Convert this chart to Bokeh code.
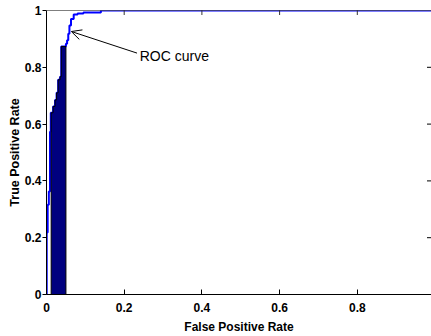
import math
from bokeh.plotting import figure
from bokeh.models import (FixedTicker, Arrow, OpenHead, Label, Span,
                          Range1d, CustomJSTickFormatter)
from bokeh.embed import file_html
from bokeh.resources import INLINE

# ROC curve vertices (step "after": level tpr[i] holds from fpr[i] to fpr[i+1])
roc_fpr = [0.0, 0.0005, 0.003, 0.006, 0.009, 0.011, 0.017, 0.022, 0.026, 0.030,
           0.035, 0.038, 0.050, 0.053, 0.056, 0.059, 0.063, 0.070, 0.080, 0.095,
           0.140, 1.0]
roc_tpr = [0.0, 0.218, 0.316, 0.363, 0.573, 0.640, 0.662, 0.685, 0.710, 0.756,
           0.767, 0.873, 0.883, 0.895, 0.918, 0.947, 0.970, 0.986, 0.989, 0.993,
           1.0, 1.0]

# dark filled region under the curve (edges and heights of each step)
fill_edges = [0.012, 0.017, 0.022, 0.026, 0.030, 0.035, 0.038, 0.050]
fill_heights = [0.640, 0.662, 0.685, 0.710, 0.756, 0.767, 0.873]

tick_values = [0, 0.2, 0.4, 0.6, 0.8, 1.0]
inner_ticks = [0.2, 0.4, 0.6, 0.8]

annot_text = "ROC curve"
annot_tail = (0.233, 0.85)
annot_head = (0.064, 0.926)
annot_text_pos = (0.240, 0.84)

X_END = 0.991
FONT = "Liberation Sans"

p = figure(width=431, height=336, output_backend="svg", toolbar_location=None,
           x_range=Range1d(0, X_END), y_range=Range1d(0, 1),
           min_border_left=46, min_border_right=0, min_border_top=10,
           min_border_bottom=41, background_fill_color="white",
           border_fill_color="white")
p.outline_line_color = None
p.grid.visible = False

# curve
p.step(roc_fpr, roc_tpr, mode="after", line_color="#0000ff", line_width=2)

# filled area built from the step edges/heights
px, py = [fill_edges[0]], [0.0]
for i, h in enumerate(fill_heights):
    px += [fill_edges[i], fill_edges[i + 1]]
    py += [h, h]
px.append(fill_edges[-1]); py.append(0.0)
p.patch(px, py, fill_color="#00007f", line_color="#000000", line_width=1)

# box: top edge, plus inward ticks on the top and right sides
p.add_layout(Span(location=1, dimension="width", line_color="black", line_width=1))
p.scatter(inner_ticks, [1] * len(inner_ticks), marker="dash", size=9,
          angle=math.pi / 2, line_color="#333333", line_width=1)
p.scatter([X_END] * len(inner_ticks), inner_ticks, marker="dash", size=9,
          line_color="black", line_width=1)

fmt = CustomJSTickFormatter(code="return Number(tick.toFixed(1)).toString();")

for ax in (p.xaxis[0], p.yaxis[0]):
    ax.ticker = FixedTicker(ticks=tick_values)
    ax.formatter = fmt
    ax.axis_line_color = "black"
    ax.major_tick_line_color = "black"
    ax.minor_tick_line_color = None
    ax.major_label_text_font = FONT
    ax.major_label_text_font_style = "bold"
    ax.major_label_text_font_size = "12px"
    ax.major_label_text_color = "black"
    ax.axis_label_text_font = FONT
    ax.axis_label_text_font_style = "bold"
    ax.axis_label_text_font_size = "12px"
    ax.axis_label_text_color = "black"

p.xaxis[0].axis_label = "False Positive Rate"
p.xaxis[0].major_tick_in = 5
p.xaxis[0].major_tick_out = 0
p.xaxis[0].major_label_standoff = 8
p.xaxis[0].axis_label_standoff = 5

p.yaxis[0].axis_label = "True Positive Rate"
p.yaxis[0].axis_label_text_font_size = "12.5px"
p.yaxis[0].major_tick_in = 0
p.yaxis[0].major_tick_out = 4
p.yaxis[0].major_label_standoff = 1
p.yaxis[0].axis_label_standoff = 0

p.add_layout(Arrow(end=OpenHead(size=10, line_width=1, line_color="black"),
                   x_start=annot_tail[0], y_start=annot_tail[1],
                   x_end=annot_head[0], y_end=annot_head[1],
                   line_color="black", line_width=1))
p.add_layout(Label(x=annot_text_pos[0], y=annot_text_pos[1], text=annot_text,
                   text_font=FONT, text_font_size="14px",
                   text_baseline="middle", text_color="black"))

open("out.html", "w").write(file_html(p, INLINE))
